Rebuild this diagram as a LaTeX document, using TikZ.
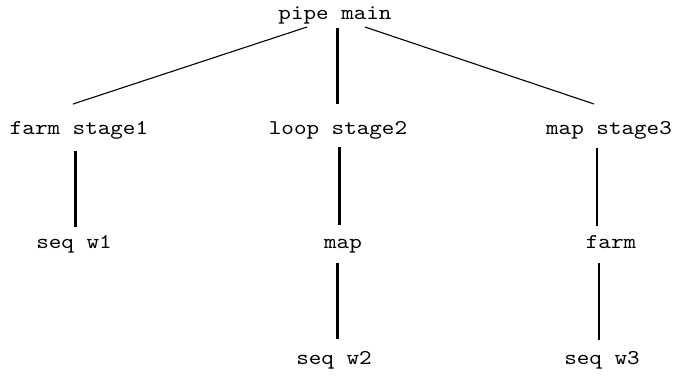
\documentclass[tikz,border=0pt]{standalone}
\usepackage{fontspec}
\newfontfamily\treefont{lmmono10-regular.otf}[FakeStretch=1.14]
\begin{document}
\begin{tikzpicture}[x=1pt,y=-1pt,
  label/.style={inner sep=0pt,anchor=base,font=\treefont\fontsize{21}{24}\selectfont},
  fine/.style={line width=1.1pt},
  heavy/.style={line width=3pt},
  medium/.style={line width=2pt}]
\useasboundingbox (0,0) rectangle (674,376);
% nodes of the skeleton tree
\node[label] (root) at (335,19)  {pipe main};
\node[label] (f1)   at (79,134)  {farm stage1};
\node[label] (l2)   at (338,134) {loop stage2};
\node[label] (m3)   at (609,134) {map stage3};
\node[label] (s1)   at (74,248)  {seq w1};
\node[label] (mp)   at (343,248) {map};
\node[label] (fm)   at (611,248) {farm};
\node[label] (s2)   at (334,364) {seq w2};
\node[label] (s3)   at (602,364) {seq w3};
% edges
\draw[fine]   ([xshift=-28pt,yshift=-8pt]root.base) -- ([xshift=-6pt,yshift=30pt]f1.base);
\draw[heavy]  ([xshift=2pt,yshift=-9pt]root.base)   -- ([xshift=-1pt,yshift=30pt]l2.base);
\draw[fine]   ([xshift=30pt,yshift=-8pt]root.base)  -- ([xshift=-15pt,yshift=30pt]m3.base);
\draw[heavy]  ([xshift=-4pt,yshift=-17pt]f1.base)   -- ([xshift=1pt,yshift=21pt]s1.base);
\draw[heavy]  ([xshift=1pt,yshift=-13pt]l2.base)    -- ([xshift=-4pt,yshift=23pt]mp.base);
\draw[medium] ([xshift=-12pt,yshift=-14pt]m3.base)  -- ([xshift=-14pt,yshift=22pt]fm.base);
\draw[heavy]  ([xshift=-6pt,yshift=-15pt]mp.base)   -- ([xshift=3pt,yshift=25pt]s2.base);
\draw[medium] ([xshift=-12pt,yshift=-15pt]fm.base)  -- ([xshift=-3pt,yshift=24pt]s3.base);
\end{tikzpicture}
\end{document}
